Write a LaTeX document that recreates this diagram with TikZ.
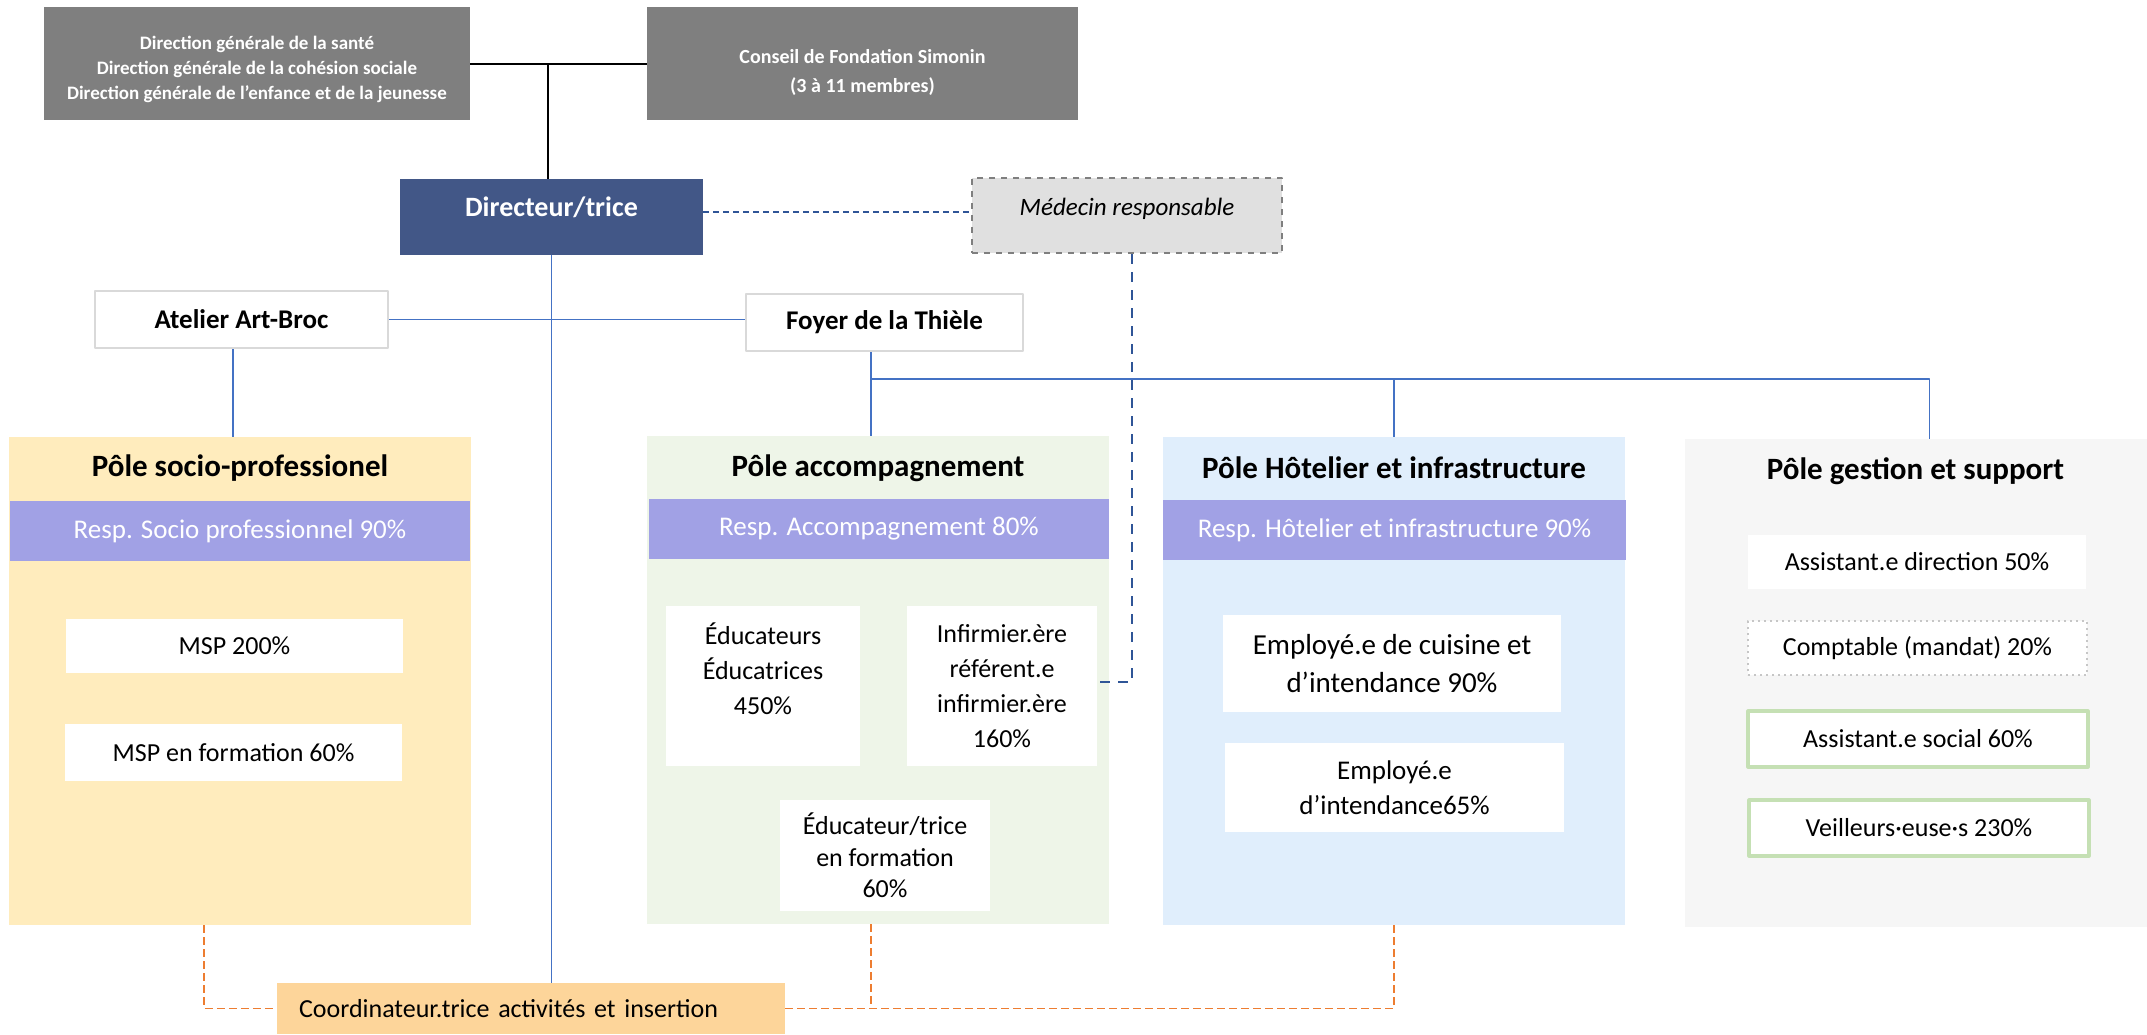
\documentclass[tikz,border=0pt]{standalone}
\usepackage{fontspec}
\setmainfont{Carlito}
\definecolor{gristete}{RGB}{127,127,127}
\definecolor{bleudir}{RGB}{66,87,135}
\definecolor{grismed}{RGB}{224,224,224}
\definecolor{griscadre}{RGB}{217,217,217}
\definecolor{jaunepole}{RGB}{255,236,189}
\definecolor{vertpole}{RGB}{238,245,232}
\definecolor{bleupole}{RGB}{224,238,252}
\definecolor{grispole}{RGB}{246,246,246}
\definecolor{violetresp}{RGB}{161,161,229}
\definecolor{orangecoord}{RGB}{253,213,154}
\definecolor{bleulien}{RGB}{68,114,196}
\definecolor{bleufonce}{RGB}{47,85,151}
\definecolor{orangelien}{RGB}{237,125,49}
\definecolor{vertcadre}{RGB}{197,224,180}
\begin{document}
\begin{tikzpicture}[x=0.5pt, y=-0.5pt, line join=round,
	tete/.style={fill=gristete, text=white, align=center, inner sep=0pt, minimum height=56.5pt},
	etab/.style={draw=griscadre, line width=1.2pt, fill=white, inner sep=0pt, minimum height=28.5pt, font=\bfseries\fontsize{13.5}{16}\selectfont},
	pole/.style={inner sep=0pt, minimum width=231pt, minimum height=244pt},
	poletitre/.style={inner sep=0pt, font=\bfseries\fontsize{15.5}{18}\selectfont},
	resp/.style={fill=violetresp, text=white, inner sep=0pt, minimum width=230pt, minimum height=30pt, font=\fontsize{13.5}{16}\selectfont},
	poste/.style={fill=white, inner sep=0pt, align=center, font=\fontsize{13}{17.5}\selectfont},
	lien/.style={draw=bleulien, line width=0.8pt},
	lienmed/.style={draw=bleufonce, line width=0.8pt, dash pattern=on 5pt off 4pt},
	liencoord/.style={draw=orangelien, line width=0.9pt, dash pattern=on 4pt off 2pt}]
	\useasboundingbox (0,0) rectangle (2147,1034);
	% instances superieures
	\node[tete, minimum width=213pt, text height=38pt, font=\bfseries\fontsize{9.5}{12.5}\selectfont] (dg) at (257,63.5) {Direction générale de la santé\\Direction générale de la cohésion sociale\\Direction générale de l’enfance et de la jeunesse};
	\node[tete, minimum width=215.5pt, text height=31pt, font=\bfseries\fontsize{10}{14.5}\selectfont] (conseil) at (862.5,63.5) {Conseil de Fondation Simonin\\(3 à 11 membres)};
	\node[fill=bleudir, text=white, inner sep=0pt, minimum width=151.5pt, minimum height=38pt, text height=10pt, text depth=10.8pt, font=\bfseries\fontsize{14}{16}\selectfont] (dir) at (551.5,217) {Directeur/trice};
	\node[draw=gristete, fill=grismed, line width=1.2pt, dashed, inner sep=0pt, minimum width=155pt, minimum height=37.5pt, text height=9pt, text depth=9.3pt, font=\itshape\fontsize{12.5}{15}\selectfont] (med) at (1127,215.5) {Médecin responsable};
	\node[etab, minimum width=146.5pt] (atelier) at (241.5,319.5) {Atelier Art-Broc};
	\node[etab, minimum width=138.5pt] (foyer) at (884.5,322.5) {Foyer de la Thièle};
	% poles
	\foreach \name/\cx/\cy/\col in {socio/240/681/jaunepole, accomp/878/680/vertpole, hotel/1394/681/bleupole, gestion/1915.5/683/grispole}
		\node[pole, fill=\col] (\name) at (\cx,\cy) {};
	\node[poletitre] (socio-t) at (240,468) {Pôle socio-professionel};
	\node[poletitre] (accomp-t) at (878,468) {Pôle accompagnement};
	\node[poletitre] (hotel-t) at (1394,468) {Pôle Hôtelier et infrastructure};
	\node[poletitre] (gestion-t) at (1915.5,471) {Pôle gestion et support};
	\node[resp] (socio-r) at (240,531) {Resp. Socio professionnel 90\%};
	\node[resp] (accomp-r) at (879,529) {Resp. Accompagnement 80\%};
	\node[resp, minimum width=231.5pt] (hotel-r) at (1394.5,530) {Resp. Hôtelier et infrastructure 90\%};
	% postes
	\node[poste, minimum width=168.5pt, minimum height=27pt] (msp) at (234.5,646) {MSP 200\%};
	\node[poste, minimum width=168.5pt, minimum height=28.5pt] (mspf) at (233.5,752.5) {MSP en formation 60\%};
	\node[poste, minimum width=97pt, minimum height=80pt] (educ) at (763,686) {Éducateurs\\Éducatrices\\450\%\\~};
	\node[poste, minimum width=95pt, minimum height=80pt] (infirm) at (1002,686) {Infirmier.ère\\référent.e\\infirmier.ère\\160\%};
	\node[poste, minimum width=105pt, minimum height=55.5pt, font=\fontsize{13}{15.75}\selectfont] (educf) at (885,855.5) {Éducateur/trice\\en formation\\60\%};
	\node[poste, minimum width=169pt, minimum height=48.5pt, font=\fontsize{14.5}{19}\selectfont] (cuisine) at (1392,663.5) {Employé.e de cuisine et\\d’intendance 90\%};
	\node[poste, minimum width=169.5pt, minimum height=44.5pt, font=\fontsize{13.5}{17.5}\selectfont] (intend) at (1394.5,787.5) {Employé.e\\d’intendance65\%};
	\node[poste, minimum width=169pt, minimum height=27pt] (asdir) at (1917,562) {Assistant.e direction 50\%};
	\node[poste, draw=gray!45, line width=1pt, dotted, minimum width=169.5pt, minimum height=27pt] (compt) at (1917.5,648) {Comptable (mandat) 20\%};
	\node[poste, draw=vertcadre, line width=1.6pt, minimum width=170pt, minimum height=28pt] (assoc) at (1918,739) {Assistant.e social 60\%};
	\node[poste, draw=vertcadre, line width=1.6pt, minimum width=170pt, minimum height=28pt] (veil) at (1919,828) {Veilleurs·euse·s 230\%};
	\node[fill=orangecoord, inner sep=0pt, minimum width=254pt, minimum height=25.5pt, text width=232pt, align=left, font=\fontsize{13}{16}\selectfont] (coord) at (531,1008.5) {Coordinateur.trice activités et insertion};
	% liens
	\draw[line width=1pt] (dg.east) -- (conseil.west);
	\draw[line width=0.7pt] ([xshift=-1.75pt]dir.north) -- ([xshift=-1.75pt]dir.north |- dg.east);
	\draw[bleufonce, line width=1pt, dash pattern=on 3pt off 2pt] ([yshift=2.5pt]dir.east) -- ([yshift=2.5pt]dir.east -| med.west);
	\draw[lienmed] ([xshift=2.5pt]med.south) |- ([yshift=2pt]infirm.east);
	\draw[lien] (atelier.east) -- (atelier.east -| foyer.west);
	\draw[lien] ([xshift=-4.25pt]atelier.south) -- ([xshift=-4.25pt]atelier.south |- socio.north);
	\draw[lien] (dir.south) -- (dir.south |- coord.north);
	\coordinate (split) at (871,379);
	\draw[lien] (split |- foyer.south) -- (split |- accomp.north);
	\draw[lien] (split) -| (hotel.north);
	\draw[lien] (split) -| ([xshift=7pt]gestion.north);
	\draw[liencoord] ([xshift=-18pt]socio.south) |- (coord.west);
	\draw[liencoord] (coord.east) -| (hotel.south);
	\draw[liencoord] (split |- accomp.south) -- (split |- coord.east);
\end{tikzpicture}
\end{document}
